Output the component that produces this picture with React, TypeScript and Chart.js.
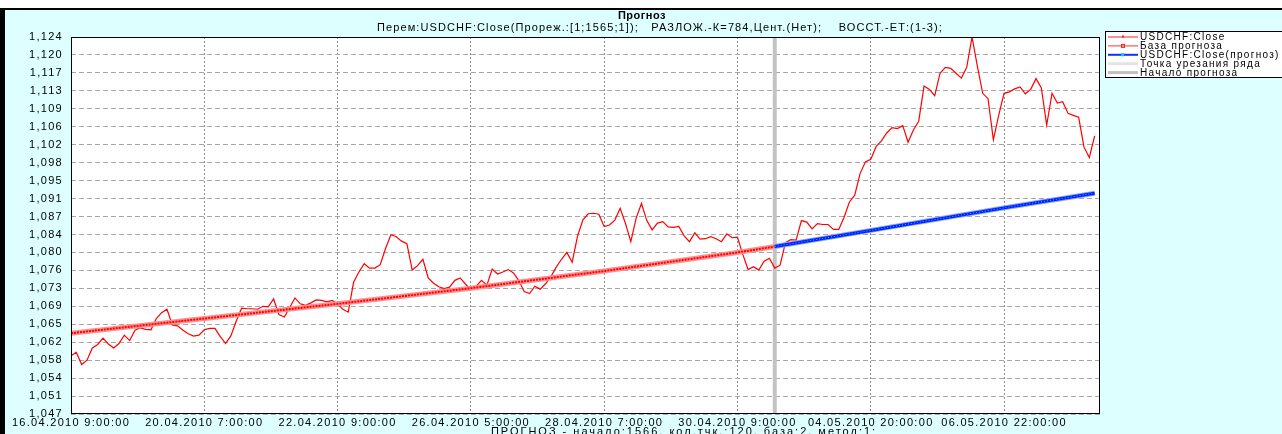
import React, { useEffect, useRef } from 'react';
import { Chart, registerables } from 'chart.js';

Chart.register(...registerables);

const chartTitle = 'Прогноз';
const chartSubtitle = 'Перем:USDCHF:Close(Прореж.:[1;1565;1]);   РАЗЛОЖ.-К=784,Цент.(Нет);    ВОССТ.-ЕТ:(1-3);';
const footerText = 'ПРОГНОЗ - начало:1566, кол.тчк.:120, база:2, метод:1;';

const xTickIndex = [0, 50, 100, 150, 200, 250, 300, 350];
const xTickLabels = [
  '16.04.2010 9:00:00',
  '20.04.2010 7:00:00',
  '22.04.2010 9:00:00',
  '26.04.2010 5:00:00',
  '28.04.2010 7:00:00',
  '30.04.2010 9:00:00',
  '04.05.2010 20:00:00',
  '06.05.2010 22:00:00',
];
const yTickLabels = [
  '1,047', '1,051', '1,054', '1,058', '1,062', '1,065', '1,069', '1,073', '1,076', '1,080', '1,084',
  '1,087', '1,091', '1,095', '1,098', '1,102', '1,106', '1,109', '1,113', '1,117', '1,120', '1,124',
];
const yMin = 1.047;
const yMax = 1.124;
const xMax = 386;

// USDCHF:Close, one value every 2 points
const closeStep = 2;
const closeValues = [
  1.0589, 1.0596, 1.0571, 1.0580, 1.0605, 1.0612, 1.0625, 1.0613, 1.0605, 1.0614,
  1.0631, 1.0620, 1.0641, 1.0646, 1.0643, 1.0642, 1.0665, 1.0677, 1.0684, 1.0652,
  1.0650, 1.0641, 1.0634, 1.0629, 1.0631, 1.0642, 1.0645, 1.0645, 1.0628, 1.0614,
  1.0630, 1.0660, 1.0686, 1.0685, 1.0685, 1.0684, 1.0690, 1.0689, 1.0705, 1.0673,
  1.0668, 1.0687, 1.0707, 1.0695, 1.0692, 1.0697, 1.0703, 1.0702, 1.0699, 1.0702,
  1.0695, 1.0684, 1.0678, 1.0739, 1.0760, 1.0777, 1.0768, 1.0768, 1.0775, 1.0808,
  1.0836, 1.0832, 1.0823, 1.0818, 1.0764, 1.0773, 1.0786, 1.0748, 1.0737, 1.0730,
  1.0726, 1.0729, 1.0743, 1.0748, 1.0735, 1.0725, 1.0731, 1.0743, 1.0733, 1.0766,
  1.0756, 1.0760, 1.0765, 1.0758, 1.0742, 1.0720, 1.0716, 1.0731, 1.0725, 1.0736,
  1.0750, 1.0770, 1.0786, 1.0800, 1.0780, 1.0833, 1.0866, 1.0879, 1.0880, 1.0878,
  1.0853, 1.0856, 1.0866, 1.0890, 1.0859, 1.0822, 1.0870, 1.0900, 1.0865, 1.0846,
  1.0860, 1.0863, 1.0852, 1.0851, 1.0853, 1.0834, 1.0822, 1.0840, 1.0827, 1.0828,
  1.0832, 1.0828, 1.0822, 1.0838, 1.0830, 1.0831, 1.0796, 1.0765, 1.0771, 1.0764,
  1.0782, 1.0788, 1.0768, 1.0774, 1.0820, 1.0826, 1.0825, 1.0865, 1.0862, 1.0848,
  1.0859, 1.0857, 1.0857, 1.0847, 1.0847, 1.0872, 1.0903, 1.0917, 1.0961, 1.0985,
  1.0990, 1.1016, 1.1028, 1.1044, 1.1055, 1.1053, 1.1059, 1.1025, 1.1050, 1.1068,
  1.1140, 1.1133, 1.1120, 1.1166, 1.1178, 1.1176, 1.1166, 1.1156, 1.1178, 1.1240,
  1.1180, 1.1125, 1.1114, 1.1030, 1.1080, 1.1125, 1.1128, 1.1134, 1.1138, 1.1124,
  1.1133, 1.1155, 1.1136, 1.1060, 1.1125, 1.1105, 1.1108, 1.1084, 1.1080, 1.1076,
  1.1015, 1.0994, 1.1038,
];

// База прогноза
const baseIndex = [0, 50, 100, 150, 200, 250, 264];
const baseValues = [1.0635, 1.0665, 1.0695, 1.0727, 1.0762, 1.0800, 1.0812];

// USDCHF:Close(прогноз)
const forecastIndex = [264, 300, 350, 384];
const forecastValues = [1.0812, 1.0845, 1.0891, 1.0921];

const cutPointIndex = 264;
const forecastStartIndex = 264;

const legendLabels = [
  'USDCHF:Close',
  'База прогноза',
  'USDCHF:Close(прогноз)',
  'Точка урезания ряда',
  'Начало прогноза',
];

const FONT = '"Liberation Sans", Arial, sans-serif';
const BG = '#ddffff';
const TICK_SPACING = '1.3px';

const pairs = (xs: number[], ys: number[]) => xs.map((x, i) => ({ x, y: ys[i] }));

const decorPlugin = {
  id: 'decor',
  beforeUpdate(chart: any) {
    (chart.ctx as any).letterSpacing = TICK_SPACING;
  },
  beforeDraw(chart: any) {
    const ctx = chart.ctx;
    const { width, height } = chart;
    const a = chart.chartArea;
    ctx.save();
    ctx.fillStyle = BG;
    ctx.fillRect(0, 0, width, height);
    ctx.fillStyle = '#ffffff';
    ctx.fillRect(0, 0, width, 8);
    ctx.fillStyle = '#000000';
    ctx.fillRect(0, 8, width, 2);
    ctx.fillRect(0, 8, 5, height - 8);
    ctx.fillStyle = '#ffffff';
    ctx.fillRect(a.left, a.top, a.right - a.left, a.bottom - a.top);
    ctx.restore();
    (ctx as any).letterSpacing = TICK_SPACING;
  },
  afterDatasetsDraw(chart: any) {
    const ctx = chart.ctx;
    const a = chart.chartArea;
    ctx.save();
    ctx.strokeStyle = '#000000';
    ctx.lineWidth = 1;
    ctx.strokeRect(Math.round(a.left) + 0.5, Math.round(a.top) + 0.5, Math.round(a.right - a.left) - 1, Math.round(a.bottom - a.top) - 1);
    ctx.restore();
  },
  afterDraw(chart: any) {
    const ctx = chart.ctx;
    ctx.save();
    ctx.fillStyle = '#000000';
    ctx.textAlign = 'center';
    ctx.textBaseline = 'middle';
    (ctx as any).letterSpacing = '0.5px';
    ctx.font = `bold 11px ${FONT}`;
    ctx.fillText(chartTitle, 642, 16);
    (ctx as any).letterSpacing = '1.1px';
    ctx.font = `11px ${FONT}`;
    ctx.fillText(chartSubtitle, 660, 28);
    (ctx as any).letterSpacing = '2px';
    ctx.fillText(footerText, 684, 432);

    // legend
    const lx = 1105;
    const ly = 31;
    ctx.fillStyle = '#ffffff';
    ctx.fillRect(lx, ly, 200, 47);
    ctx.strokeStyle = '#000000';
    ctx.lineWidth = 1;
    ctx.strokeRect(lx + 0.5, ly + 0.5, 200, 46);
    const rowY = (i: number) => 37 + i * 8.9;
    const x0 = 1108;
    const x1 = 1138;
    const line = (y: number, color: string, w: number) => {
      ctx.strokeStyle = color;
      ctx.lineWidth = w;
      ctx.beginPath();
      ctx.moveTo(x0, y);
      ctx.lineTo(x1, y);
      ctx.stroke();
    };
    line(rowY(0), '#ff2020', 1);
    ctx.fillStyle = '#ff2020';
    ctx.fillRect(1122, rowY(0) - 1.5, 2, 2);
    line(rowY(1), '#ff3030', 1);
    ctx.strokeStyle = '#ff2020';
    ctx.lineWidth = 1;
    ctx.strokeRect(1121.5, rowY(1) - 1.5, 3, 3);
    line(rowY(2), '#1030ff', 2);
    ctx.fillStyle = '#00c8ff';
    ctx.fillRect(1121, rowY(2) - 1.5, 3, 3);
    line(rowY(3), '#e4e4e4', 3);
    line(rowY(4), '#c0c0c0', 3);

    ctx.fillStyle = '#000000';
    ctx.textAlign = 'left';
    (ctx as any).letterSpacing = '1.3px';
    ctx.font = `10px ${FONT}`;
    legendLabels.forEach((t, i) => ctx.fillText(t, 1140, rowY(i) + 0.5));
    ctx.restore();
    (ctx as any).letterSpacing = TICK_SPACING;
  },
};

export default function App() {
  const ref = useRef<HTMLCanvasElement | null>(null);

  useEffect(() => {
    document.body.style.margin = '0';
    const canvas = ref.current;
    if (!canvas) return;
    const closeData = closeValues.map((v, i) => ({ x: i * closeStep, y: v }));
    const baseData = pairs(baseIndex, baseValues);
    const fcData = pairs(forecastIndex, forecastValues);
    const startData = [
      { x: forecastStartIndex, y: yMin },
      { x: forecastStartIndex, y: yMax },
    ];
    const cutData = [
      { x: cutPointIndex, y: yMin },
      { x: cutPointIndex, y: yMax },
    ];
    const lineDs = (label: string, data: any[], color: string, width: number, dash: number[] = []) => ({
      label,
      data,
      borderColor: color,
      backgroundColor: color,
      borderWidth: width,
      borderDash: dash,
      pointRadius: 0,
      tension: 0,
      fill: false,
    });

    const chart = new Chart(canvas, {
      type: 'line',
      data: {
        datasets: [
          lineDs(legendLabels[2], fcData, '#00d0ff', 1, [1, 2]),
          lineDs(legendLabels[2], fcData, '#0020ff', 3),
          lineDs(legendLabels[2], fcData, '#8fa0ff', 5),
          lineDs(legendLabels[1], baseData, '#ff0000', 2, [2, 1]),
          lineDs(legendLabels[1], baseData, '#ff9090', 5),
          lineDs(legendLabels[0], closeData, '#ff0000', 1.2),
          lineDs(legendLabels[4], startData, '#c3c3c3', 4),
          lineDs(legendLabels[3], cutData, '#e4e4e4', 2),
        ] as any,
      },
      options: {
        animation: false,
        responsive: false,
        maintainAspectRatio: false,
        parsing: false as any,
        normalized: true,
        layout: { padding: { top: 37, right: 182, left: 0, bottom: 0 } },
        plugins: {
          legend: { display: false },
          title: { display: false },
          tooltip: { enabled: false },
        },
        scales: {
          x: {
            type: 'linear',
            min: 0,
            max: xMax,
            afterBuildTicks: (s: any) => {
              s.ticks = xTickIndex.map((v) => ({ value: v }));
            },
            afterFit: (s: any) => {
              s.height = 20;
            },
            ticks: {
              autoSkip: false,
              maxRotation: 0,
              minRotation: 0,
              padding: 2,
              color: '#000000',
              font: { family: FONT, size: 11 },
              callback: (v: any) => {
                const k = xTickIndex.indexOf(Number(v));
                return k >= 0 ? xTickLabels[k] : '';
              },
            },
            grid: {
              color: '#8c8c8c',
              lineWidth: 1,
              drawTicks: false,
              tickLength: 0,
            },
            border: { display: false, dash: [2, 2] },
          },
          y: {
            type: 'linear',
            min: yMin,
            max: yMax,
            afterBuildTicks: (s: any) => {
              const n = yTickLabels.length - 1;
              s.ticks = yTickLabels.map((_, i) => ({ value: yMin + (i * (yMax - yMin)) / n }));
            },
            afterFit: (s: any) => {
              s.width = 71;
            },
            ticks: {
              autoSkip: false,
              padding: 8,
              color: '#000000',
              font: { family: FONT, size: 11 },
              callback: (_v: any, i: number) => yTickLabels[i],
            },
            grid: {
              color: '#a8a8a8',
              lineWidth: 1,
              drawTicks: false,
              tickLength: 0,
            },
            border: { display: false, dash: [5, 3] },
          },
        },
      },
      plugins: [decorPlugin],
    });
    return () => chart.destroy();
  }, []);

  return (
    <div style={{ position: 'absolute', left: 0, top: 0, width: 1282, height: 434 }}>
      <canvas ref={ref} width={1282} height={434} style={{ display: 'block', width: 1282, height: 434 }} />
    </div>
  );
}
